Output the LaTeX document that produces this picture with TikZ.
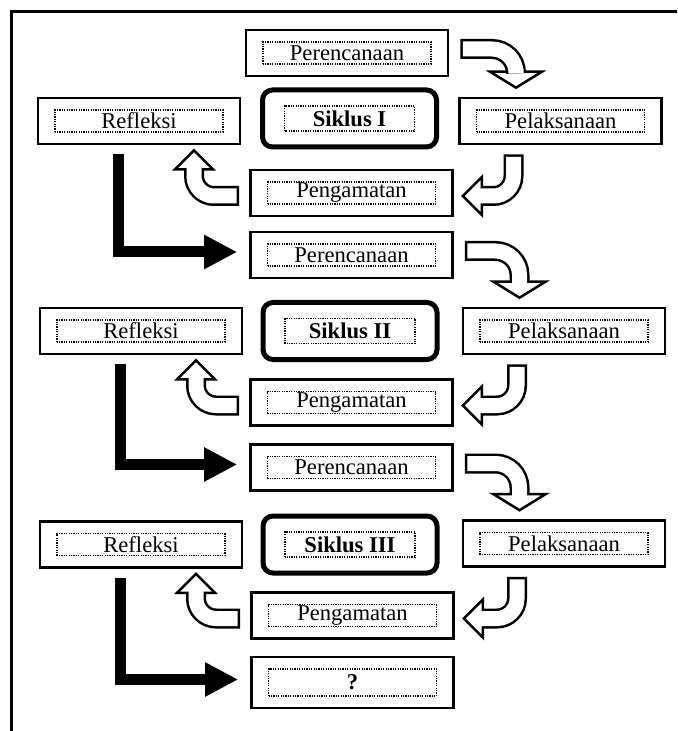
\documentclass[tikz,border=0pt]{standalone}
\usepackage{fontspec}
\setmainfont{Liberation Serif}
\usetikzlibrary{calc, arrows.meta}

\begin{document}
\begin{tikzpicture}[x=.5pt, y=-.5pt]
    \tikzstyle{stage} = [rectangle, draw, line width=1.3pt, minimum width=101pt,
        minimum height=23pt, inner sep=0pt, font=\fontsize{11.3pt}{13pt}\selectfont,
        path picture={\draw[line width=.6pt, dash pattern=on .6pt off .6pt]
            ([shift={(8.5pt,6pt)}]path picture bounding box.south west) rectangle
            ([shift={(-8.5pt,-6pt)}]path picture bounding box.north east);}]
    \tikzstyle{siklus} = [rectangle, draw, line width=2.5pt, rounded corners=5pt,
        minimum width=87pt, minimum height=28.5pt, inner sep=0pt,
        font=\bfseries\fontsize{11.3pt}{13pt}\selectfont,
        path picture={\draw[sharp corners, line width=.6pt, dash pattern=on .6pt off .6pt]
            ([shift={(11pt,8pt)}]path picture bounding box.south west) rectangle
            ([shift={(-11pt,-8pt)}]path picture bounding box.north east);}]
    \tikzstyle{hollowband} = [draw=white, line width=7.5pt, rounded corners=10pt,
        shorten <=1.25pt, shorten >=-1.5pt,
        preaction={draw=black, line width=10pt, shorten <=0pt, shorten >=0pt}]
    \tikzstyle{hollowhead} = [draw=black, fill=white, line width=1.25pt]
    \tikzstyle{leadarrow} = [line width=5.5pt, -{Triangle[length=16.5pt, width=16pt]}]

    \useasboundingbox (0, 0) rectangle (677, 731);
    \draw[line width=1.5pt] (677, 12) -- (11, 12) -- (11, 731);

    % Siklus I ------------------------------------------
    \node (plan1) at (347, 53) [stage] {Perencanaan};
    \node (sik1) at ($(plan1) + (2.5, 65.5)$) [siklus] {Siklus I};
    \node (refl1) at ($(sik1) + (-210.5, 2.5)$) [stage] {Refleksi};
    \node (exec1) at ($(sik1) + (211, 2.5)$) [stage] {Pelaksanaan};
    \node (obs1) at ($(sik1) + (2, 74.5)$) [stage] {Pengamatan};

    % Siklus II -----------------------------------------
    \node (plan2) at ($(obs1) + (0, 62)$) [stage] {Perencanaan};
    \node (sik2) at ($(plan2) + (-1.5, 76)$) [siklus] {Siklus II};
    \node (refl2) at ($(sik2) + (-209, 0)$) [stage] {Refleksi};
    \node (exec2) at ($(sik2) + (214, 0)$) [stage] {Pelaksanaan};
    \node (obs2) at ($(sik2) + (1.5, 71.5)$) [stage] {Pengamatan};

    % Siklus III ----------------------------------------
    \node (plan3) at ($(obs2) + (0, 65)$) [stage] {Perencanaan};
    \node (sik3) at ($(plan3) + (-1.5, 77)$) [siklus] {Siklus III};
    \node (refl3) at ($(sik3) + (-209, 0)$) [stage] {Refleksi};
    \node (exec3) at ($(sik3) + (214, -1)$) [stage] {Pelaksanaan};
    \node (obs3) at ($(sik3) + (2.5, 71)$) [stage] {Pengamatan};
    \node (next) at ($(obs3) + (0, 67)$) [stage, minimum height=25.5pt] {\textbf{?}};
    % ---------------------------------------------------

    % Perencanaan -> Pelaksanaan
    \coordinate (a1) at ($(plan1.east) + (11, -4)$);
    \coordinate (a1t) at ($(exec1.north) + (-44.5, -9)$);
    \filldraw[hollowhead] (a1t) -- ++(-26, -16) -- ++(52, 0) -- cycle;
    \draw[hollowband, rounded corners=12pt] (a1) -| ($(a1t) + (0, -16)$);

    \coordinate (a2) at ($(plan2.east) + (11, -4)$);
    \coordinate (a2t) at ($(exec2.north) + (-44.5, -9)$);
    \filldraw[hollowhead] (a2t) -- ++(-26, -16) -- ++(52, 0) -- cycle;
    \draw[hollowband, rounded corners=12pt] (a2) -| ($(a2t) + (0, -16)$);

    \coordinate (a3) at ($(plan3.east) + (11, -4)$);
    \coordinate (a3t) at ($(exec3.north) + (-44.5, -9)$);
    \filldraw[hollowhead] (a3t) -- ++(-26, -16) -- ++(52, 0) -- cycle;
    \draw[hollowband, rounded corners=12pt] (a3) -| ($(a3t) + (0, -16)$);

    % Pelaksanaan -> Pengamatan
    \coordinate (b1) at ($(exec1.south) + (-47, 9)$);
    \coordinate (b1t) at ($(obs1.east) + (9, 3)$);
    \filldraw[hollowhead] (b1t) -- ++(19, -19) -- ++(0, 38) -- cycle;
    \draw[hollowband] (b1) |- ($(b1t) + (19, 0)$);

    \coordinate (b2) at ($(exec2.south) + (-47, 9)$);
    \coordinate (b2t) at ($(obs2.east) + (9, 3)$);
    \filldraw[hollowhead] (b2t) -- ++(19, -19) -- ++(0, 38) -- cycle;
    \draw[hollowband] (b2) |- ($(b2t) + (19, 0)$);

    \coordinate (b3) at ($(exec3.south) + (-47, 9)$);
    \coordinate (b3t) at ($(obs3.east) + (9, 3)$);
    \filldraw[hollowhead] (b3t) -- ++(19, -19) -- ++(0, 38) -- cycle;
    \draw[hollowband] (b3) |- ($(b3t) + (19, 0)$);

    % Pengamatan -> Refleksi
    \coordinate (c1) at ($(obs1.west) + (-10, 3)$);
    \coordinate (c1t) at ($(refl1.south) + (55, 5)$);
    \filldraw[hollowhead] (c1t) -- ++(-19, 19) -- ++(38, 0) -- cycle;
    \draw[hollowband] (c1) -| ($(c1t) + (0, 19)$);

    \coordinate (c2) at ($(obs2.west) + (-10, 3)$);
    \coordinate (c2t) at ($(refl2.south) + (55, 5)$);
    \filldraw[hollowhead] (c2t) -- ++(-19, 19) -- ++(38, 0) -- cycle;
    \draw[hollowband] (c2) -| ($(c2t) + (0, 19)$);

    \coordinate (c3) at ($(obs3.west) + (-10, 3)$);
    \coordinate (c3t) at ($(refl3.south) + (55, 5)$);
    \filldraw[hollowhead] (c3t) -- ++(-19, 19) -- ++(38, 0) -- cycle;
    \draw[hollowband] (c3) -| ($(c3t) + (0, 19)$);

    % Refleksi -> next cycle
    \draw[leadarrow] ($(refl1.south) + (-21, 9)$) |- ($(plan2.west) + (-12, -3)$);
    \draw[leadarrow] ($(refl2.south) + (-21, 9)$) |- ($(plan3.west) + (-12, -3)$);
    \draw[leadarrow] ($(refl3.south) + (-21, 9)$) |- ($(next.west) + (-12, -3)$);
\end{tikzpicture}
\end{document}
